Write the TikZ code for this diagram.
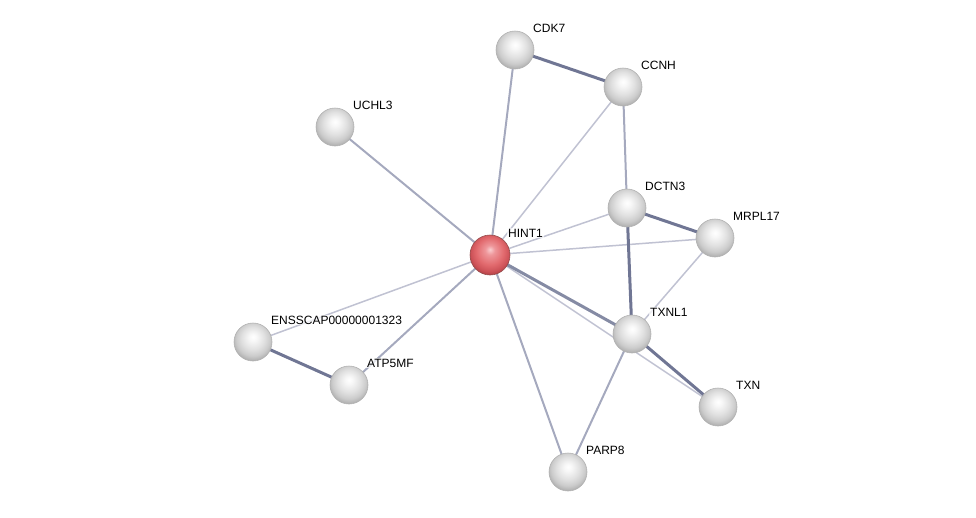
\documentclass[tikz,border=0pt]{standalone}
\usepackage{fontspec}
\setmainfont{Liberation Sans}
\definecolor{elight}{RGB}{192,194,210}
\definecolor{edark}{RGB}{112,118,148}
\definecolor{emid}{RGB}{165,169,190}
\pgfdeclareradialshading{gball}{\pgfpoint{0bp}{7bp}}{%
  color(0bp)=(white); color(5bp)=(white!97!black); color(15bp)=(white!88!black);
  color(22bp)=(white!80!black); color(28bp)=(white!68!black); color(33bp)=(white!58!black); color(50bp)=(white!55!black)}
\pgfdeclareradialshading{rball}{\pgfpoint{0bp}{7bp}}{%
  color(0bp)=(rgb,255:red,250;green,205;blue,207); color(6bp)=(rgb,255:red,238;green,150;blue,154);
  color(17bp)=(rgb,255:red,226;green,106;blue,110);
  color(24bp)=(rgb,255:red,205;green,82;blue,88); color(30bp)=(rgb,255:red,165;green,55;blue,60);
  color(50bp)=(rgb,255:red,140;green,45;blue,50)}
\tikzset{
  prot/.style={circle, minimum size=38pt, inner sep=0pt, shading=gball, draw=gray!60, line width=0.6pt},
  hub/.style={circle, minimum size=40pt, inner sep=0pt, shading=rball, draw=red!40!black!70, line width=0.6pt},
  lbl/.style={anchor=west, font=\fontsize{12}{13}\selectfont, inner sep=1pt, fill=white, fill opacity=0.7, text opacity=1},
  thin/.style={draw=elight, line width=1.5pt},
  mid/.style={draw=emid, line width=2pt},
  thick/.style={draw=edark, line width=3pt},
}
\begin{document}
\begin{tikzpicture}[x=1pt,y=-1pt]
\useasboundingbox (0,0) rectangle (976,517);
% coordinates
\coordinate (pCDK7) at (515,50);
\coordinate (pCCNH) at (623,87);
\coordinate (pUCHL3) at (335,127);
\coordinate (pDCTN3) at (627,208);
\coordinate (pMRPL17) at (715,238);
\coordinate (pHINT1) at (490,255);
\coordinate (pENS) at (253,342);
\coordinate (pTXNL1) at (632,334);
\coordinate (pATP) at (349,385);
\coordinate (pTXN) at (718,407);
\coordinate (pPARP8) at (568,472);
% edges
\draw[thin] (pHINT1) -- (pENS);
\draw[thin] (pHINT1) -- (pTXN);
\draw[thin] (pMRPL17) -- (pTXNL1);
\draw[thin] (pHINT1) -- (pCCNH);
\draw[thin] (pHINT1) -- (pDCTN3);
\draw[thin] (pHINT1) -- (pMRPL17);
\draw[mid] (pHINT1) -- (pCDK7);
\draw[mid] (pHINT1) -- (pUCHL3);
\draw[mid] (pHINT1) -- (pATP);
\draw[mid] (pHINT1) -- (pPARP8);
\draw[mid] (pTXNL1) -- (pPARP8);
\draw[mid] (pCCNH) -- (pDCTN3);
\draw[thick,draw=edark!85] (pHINT1) -- (pTXNL1);
\draw[thick] (pCDK7) -- (pCCNH);
\draw[thick] (pDCTN3) -- (pMRPL17);
\draw[thick] (pDCTN3) -- (pTXNL1);
\draw[thick] (pTXNL1) -- (pTXN);
\draw[thick] (pENS) -- (pATP);
% nodes
\node[prot] (CDK7) at (pCDK7) {};
\node[prot] (CCNH) at (pCCNH) {};
\node[prot] (UCHL3) at (pUCHL3) {};
\node[prot] (DCTN3) at (pDCTN3) {};
\node[prot] (MRPL17) at (pMRPL17) {};
\node[hub] (HINT1) at (pHINT1) {};
\node[prot] (ENS) at (pENS) {};
\node[prot] (TXNL1) at (pTXNL1) {};
\node[prot] (ATP) at (pATP) {};
\node[prot] (TXN) at (pTXN) {};
\node[prot] (PARP8) at (pPARP8) {};
% labels
\node[lbl] (lCDK7) at ([shift={(17,-22)}]pCDK7) {CDK7};
\node[lbl] (lCCNH) at ([shift={(17,-22)}]pCCNH) {CCNH};
\node[lbl] (lUCHL3) at ([shift={(17,-22)}]pUCHL3) {UCHL3};
\node[lbl] (lDCTN3) at ([shift={(17,-22)}]pDCTN3) {DCTN3};
\node[lbl] (lMRPL17) at ([shift={(17,-22)}]pMRPL17) {MRPL17};
\node[lbl] (lHINT1) at ([shift={(17,-22)}]pHINT1) {HINT1};
\node[lbl] (lENS) at ([shift={(17,-22)}]pENS) {ENSSCAP00000001323};
\node[lbl] (lTXNL1) at ([shift={(17,-22)}]pTXNL1) {TXNL1};
\node[lbl] (lATP) at ([shift={(17,-22)}]pATP) {ATP5MF};
\node[lbl] (lTXN) at ([shift={(17,-22)}]pTXN) {TXN};
\node[lbl] (lPARP8) at ([shift={(17,-22)}]pPARP8) {PARP8};
\end{tikzpicture}
\end{document}
